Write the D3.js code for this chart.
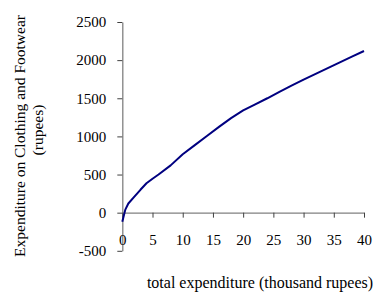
<!DOCTYPE html>
<html>
<head>
<meta charset="utf-8">
<script src="https://d3js.org/d3.v7.min.js"></script>
<style>
  body { margin: 0; background: #fff; }
  svg text { font-family: "Liberation Serif", "Times New Roman", serif; fill: #000; }
</style>
</head>
<body>
<svg id="chart" width="374" height="298"></svg>
<script>
// total expenditure (thousand rupees)
const totalExp = [0, 0.5, 1, 2, 3, 4, 5, 6, 8, 10, 12, 14, 16, 18, 20, 22, 24, 26, 28, 30, 32, 34, 36, 38, 40];
// expenditure on clothing and footwear (rupees)
const clothingExp = [-120, 40, 120, 210, 300, 385, 445, 500, 620, 765, 885, 1005, 1125, 1240, 1340, 1420, 1500, 1585, 1665, 1745, 1820, 1895, 1970, 2045, 2120];

const xTicks = [0, 5, 10, 15, 20, 25, 30, 35, 40];
const yTicks = [-500, 0, 500, 1000, 1500, 2000, 2500];

const svg = d3.select("#chart");

const x = d3.scaleLinear().domain([0, 40]).range([122.3, 364]);
const y = d3.scaleLinear().domain([-500, 2500]).range([250.8, 22]);

// plain integers, ascii minus
const fmt = d => String(d);

// y axis
const yAxis = svg.append("g")
    .attr("transform", "translate(" + x(0) + ",0)")
    .call(d3.axisLeft(y).tickValues(yTicks).tickFormat(fmt).tickSize(5).tickSizeOuter(0).tickPadding(11));

// x axis sits on the zero line
const xAxis = svg.append("g")
    .attr("transform", "translate(0," + y(0) + ")")
    .call(d3.axisBottom(x).tickValues(xTicks).tickFormat(fmt).tickSize(5).tickSizeOuter(0).tickPadding(17));

[yAxis, xAxis].forEach(function(g) {
    g.select(".domain").attr("stroke", "#808080").attr("stroke-width", 1.3);
    g.selectAll(".tick line").attr("stroke", "#404040");
    g.selectAll(".tick text")
        .style("font-family", "'Liberation Serif', serif")
        .style("font-size", "15px")
        .attr("fill", "#000");
});

// the curve
const line = d3.line()
    .x((d, i) => x(totalExp[i]))
    .y(d => y(d));

svg.append("path")
    .datum(clothingExp)
    .attr("d", line)
    .attr("fill", "none")
    .attr("stroke", "#000080")
    .attr("stroke-width", 2)
    .attr("stroke-linejoin", "round");

// axis titles
svg.append("text")
    .attr("x", 260)
    .attr("y", 288)
    .attr("text-anchor", "middle")
    .style("font-size", "16px")
    .text("total expenditure (thousand rupees)");

svg.append("text")
    .attr("transform", "translate(25,136) rotate(-90)")
    .attr("text-anchor", "middle")
    .style("font-size", "15.5px")
    .text("Expenditure on Clothing and Footwear");

svg.append("text")
    .attr("transform", "translate(43,130) rotate(-90)")
    .attr("text-anchor", "middle")
    .style("font-size", "15.5px")
    .text("(rupees)");
</script>
</body>
</html>
